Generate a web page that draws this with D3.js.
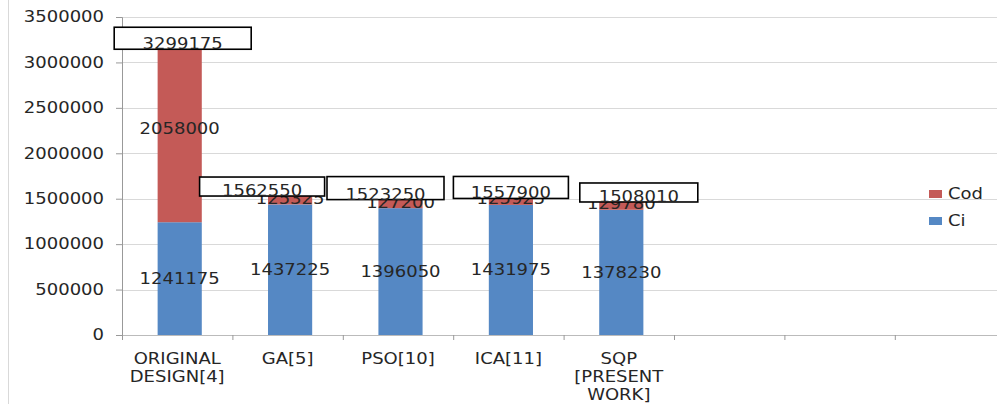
<!DOCTYPE html>
<html>
<head>
<meta charset="utf-8">
<script src="https://cdn.jsdelivr.net/npm/d3@7"></script>
<style>
  body { margin: 0; background: #fff; }
  svg text { font-family: "DejaVu Sans", sans-serif; font-size: 15px; fill: #262626; }
</style>
</head>
<body>
<div id="chart"></div>
<script>
// Chart data.
var categories = ["ORIGINAL DESIGN[4]", "GA[5]", "PSO[10]", "ICA[11]", "SQP [PRESENT WORK]", "", "", ""];
var tickLines = [["ORIGINAL", "DESIGN[4]"], ["GA[5]"], ["PSO[10]"], ["ICA[11]"], ["SQP", "[PRESENT", "WORK]"], [], [], []];
var ciValues = [1241175, 1437225, 1396050, 1431975, 1378230];
var codValues = [2058000, 125325, 127200, 125925, 129780];
var yTicks = [0, 500000, 1000000, 1500000, 2000000, 2500000, 3000000, 3500000];
var seriesNames = ["Cod", "Ci"];

// Hand placed total boxes (offsets from category centre / total value).
var boxDx = [-63, -88, -71, -55, -39];
var boxW = [137, 125, 117, 115, 118];
var boxDy = [-8, -16, -20, -17, -15];
var boxH = [22, 19, 23, 22, 19];

var width = 997, height = 404;
var x0 = 122, bandW = 110.4;
var colors = { Ci: "#5588c4", Cod: "#c45a57" };

var svg = d3.select("#chart").append("svg")
    .attr("width", width)
    .attr("height", height);

// left chart border
svg.append("line").attr("x1", 8.5).attr("x2", 8.5).attr("y1", 0).attr("y2", height)
    .attr("stroke", "#d9d9d9");

// bars sit a touch right of the band centres in the original
var x = d3.scaleBand().domain(d3.range(categories.length))
    .range([x0 + 2.5, x0 + 2.5 + bandW * categories.length]).paddingInner(0.6).paddingOuter(0.3);
var xLin = d3.scaleLinear().domain([0, categories.length]).range([x0, x0 + bandW * categories.length]);
var y = d3.scaleLinear().domain([0, 3500000]).range([335, 17]);

// gridlines
svg.append("g").selectAll("line").data(yTicks.slice(1)).enter().append("line")
    .attr("x1", x0).attr("x2", width)
    .attr("y1", d => Math.round(y(d)) + 0.5).attr("y2", d => Math.round(y(d)) + 0.5)
    .attr("stroke", "#d9d9d9");

// y axis
var yAxis = svg.append("g")
    .attr("transform", "translate(" + x0 + ",0)")
    .call(d3.axisLeft(y).tickValues(yTicks).tickSize(6).tickPadding(12).tickFormat(d3.format("d")));
yAxis.select(".domain").attr("stroke", "#999");
yAxis.selectAll(".tick line").attr("stroke", "#999");
yAxis.selectAll("text").attr("fill", "#262626").style("font-size", "15px").style("font-family", "DejaVu Sans");

// x axis (ticks on band boundaries)
var xAxis = svg.append("g")
    .attr("transform", "translate(0," + y(0) + ")")
    .call(d3.axisBottom(xLin).tickValues(d3.range(categories.length + 1)).tickSize(5).tickFormat(""));
xAxis.select(".domain").attr("stroke", "#bbb");
xAxis.selectAll(".tick line").attr("stroke", "#999");

// category labels
var catG = svg.append("g");
tickLines.forEach(function(lines, i) {
    lines.forEach(function(t, j) {
        catG.append("text")
            .attr("x", xLin(i + 0.5))
            .attr("y", 359 + j * 18)
            .attr("dy", "0.35em")
            .attr("text-anchor", "middle")
            .text(t);
    });
});

// stacked bars
var bars = svg.append("g");
ciValues.forEach(function(ci, i) {
    var cod = codValues[i];
    bars.append("rect").attr("x", x(i)).attr("width", x.bandwidth())
        .attr("y", y(ci)).attr("height", y(0) - y(ci)).attr("fill", colors.Ci);
    bars.append("rect").attr("x", x(i)).attr("width", x.bandwidth())
        .attr("y", y(ci + cod)).attr("height", y(ci) - y(ci + cod)).attr("fill", colors.Cod);
});

// segment labels
var labels = svg.append("g");
ciValues.forEach(function(ci, i) {
    var cx = x(i) + x.bandwidth() / 2;
    labels.append("text").attr("x", cx).attr("y", y(ci / 2)).attr("dy", "0.35em")
        .attr("text-anchor", "middle").text(ci);
    labels.append("text").attr("x", cx).attr("y", y(ci + codValues[i] / 2)).attr("dy", "0.35em")
        .attr("text-anchor", "middle").text(codValues[i]);
});

// total boxes
var boxes = svg.append("g");
ciValues.forEach(function(ci, i) {
    var total = ci + codValues[i];
    var cx = xLin(i + 0.5);
    var bx = cx + boxDx[i], by = y(total) + boxDy[i];
    boxes.append("rect").attr("x", bx).attr("y", by)
        .attr("width", boxW[i]).attr("height", boxH[i])
        .attr("fill", "#fff").attr("stroke", "#000").attr("stroke-width", 1.6);
    boxes.append("text").attr("x", bx + boxW[i] / 2).attr("y", by + boxH[i])
        .attr("text-anchor", "middle").text(total);
});

// legend
var legend = svg.append("g").attr("id", "legend");
seriesNames.forEach(function(name, i) {
    legend.append("rect").attr("x", 929).attr("y", 190 + i * 27).attr("width", 13).attr("height", 8)
        .attr("fill", colors[name]);
    legend.append("text").attr("x", 948).attr("y", 194 + i * 27).attr("dy", "0.35em").text(name);
});

// text in the picture is a little wider than the font, stretch it
svg.selectAll("text").each(function() {
    var t = d3.select(this);
    var len = this.getComputedTextLength();
    if (len > 0) t.attr("textLength", len * 1.2).attr("lengthAdjust", "spacingAndGlyphs");
});
</script>
</body>
</html>
